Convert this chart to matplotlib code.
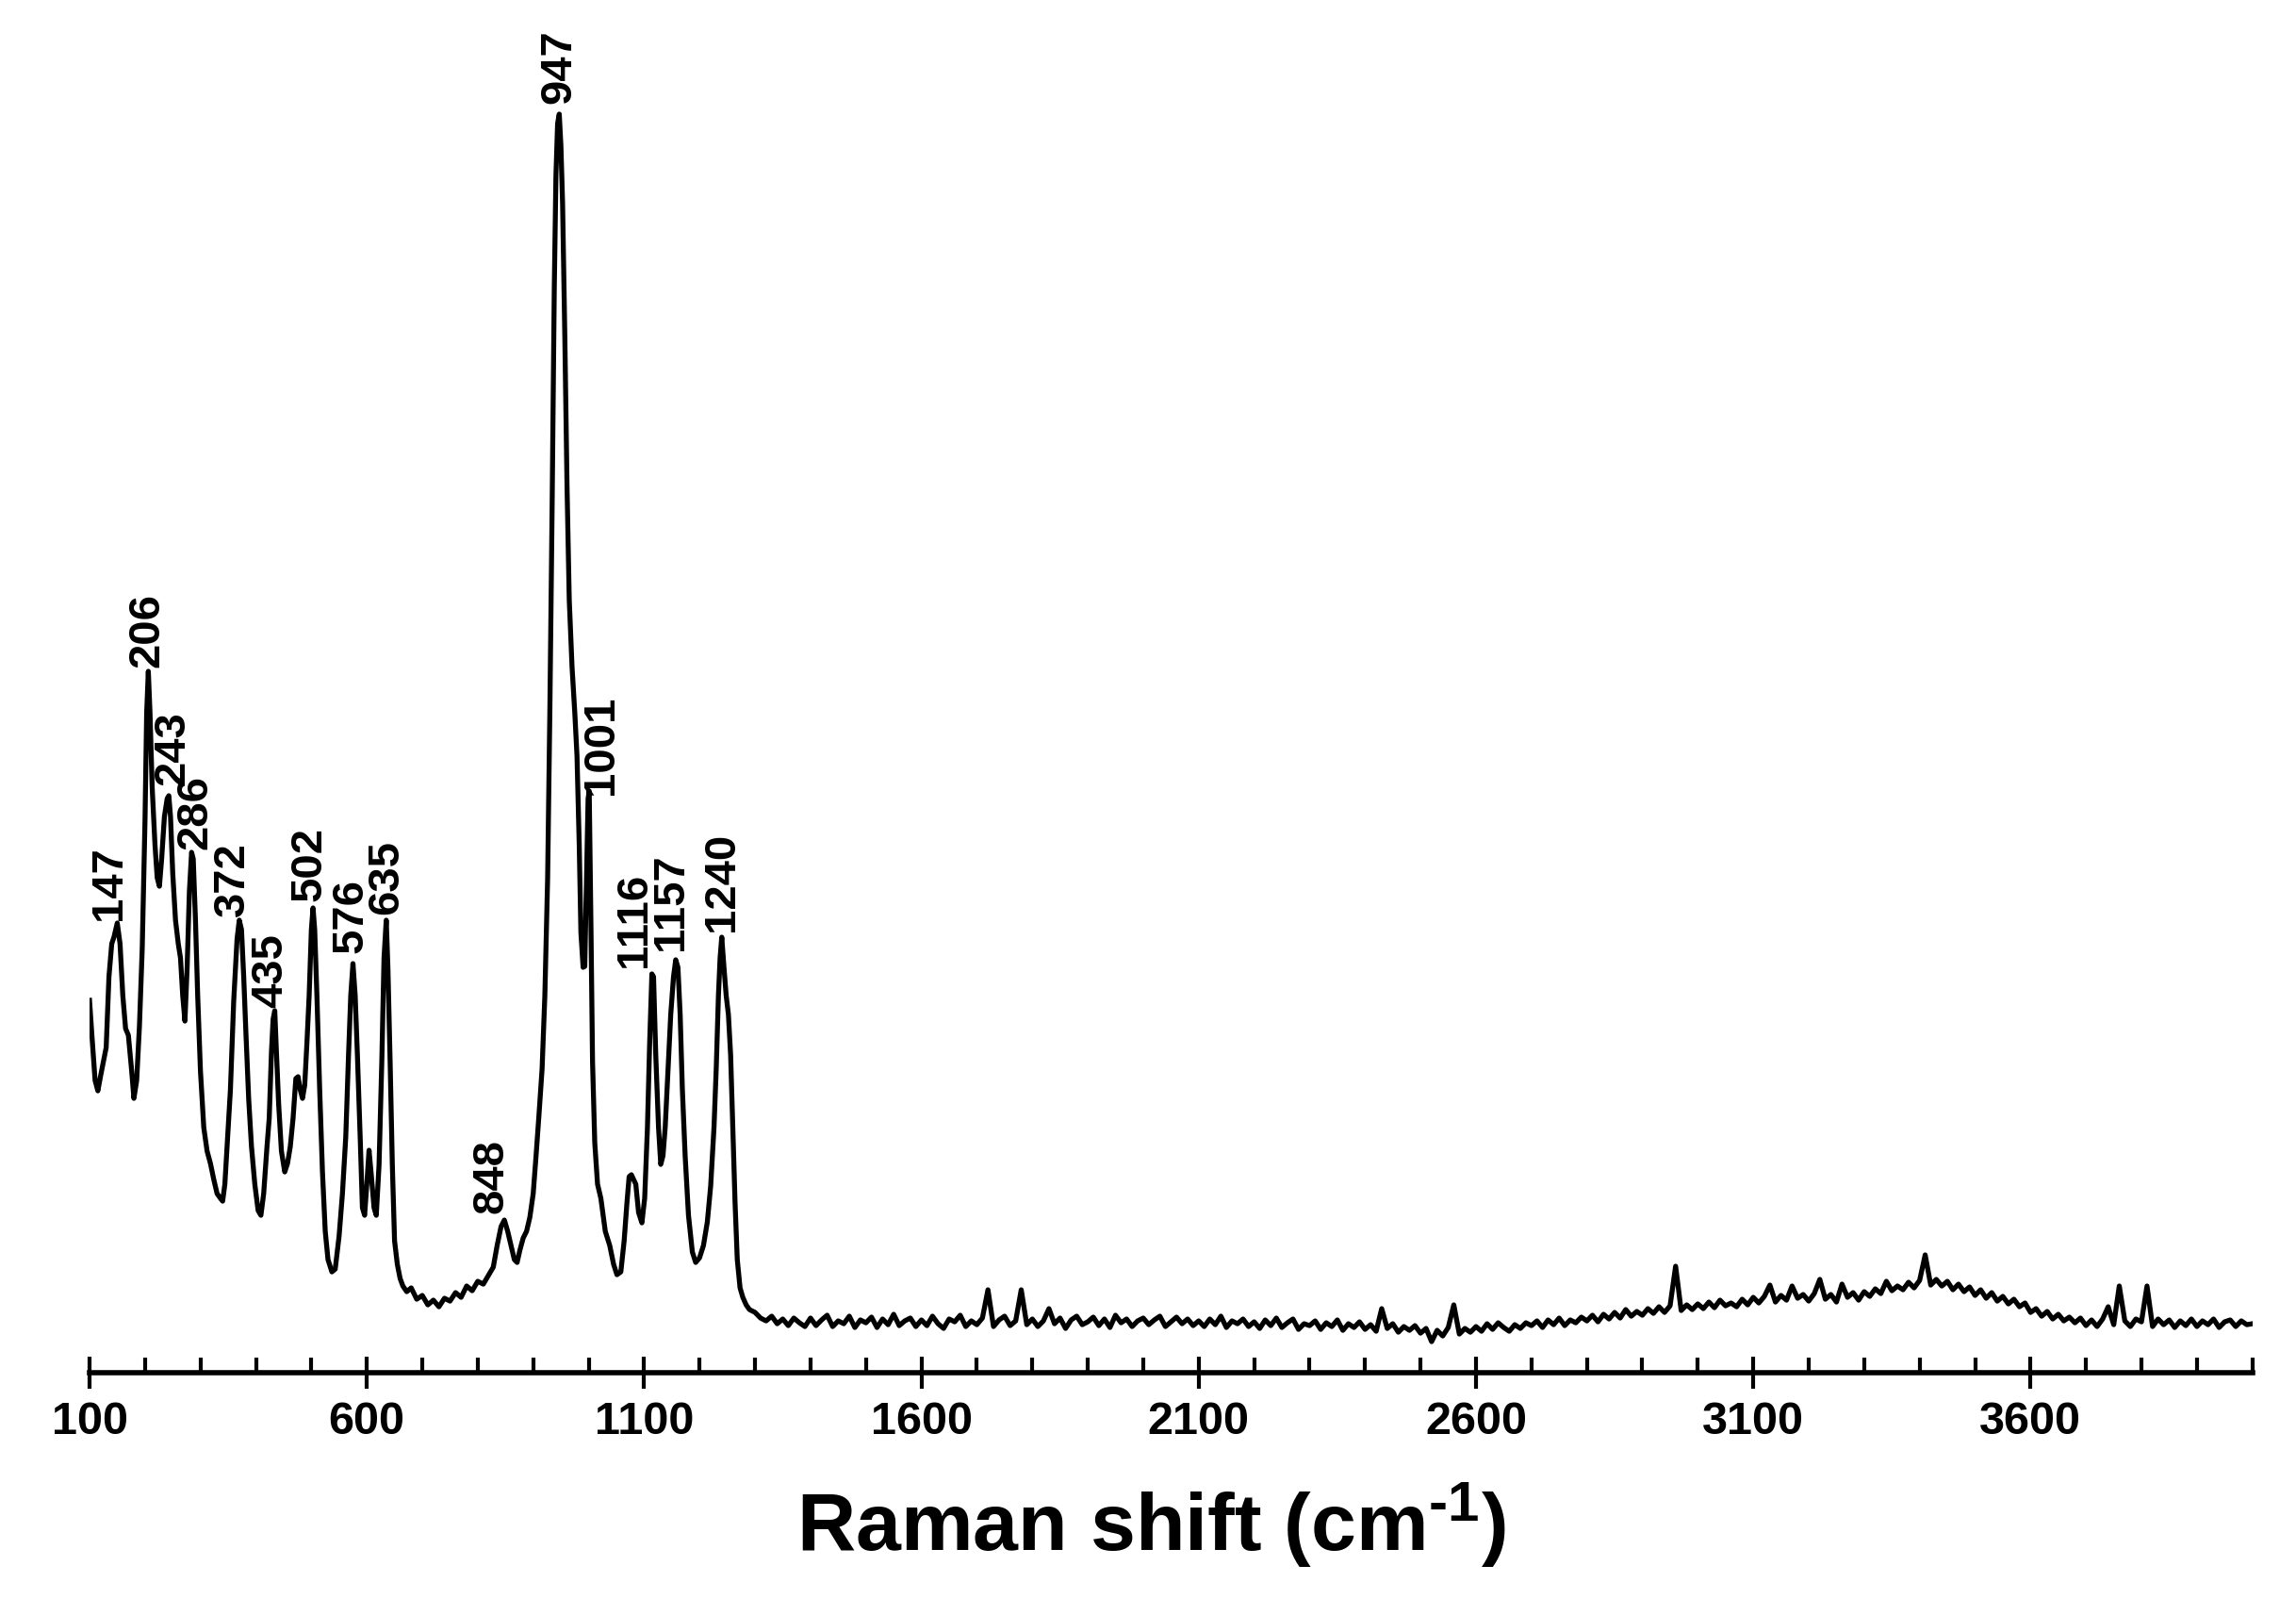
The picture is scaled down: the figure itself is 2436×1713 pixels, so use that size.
import numpy as np
import matplotlib
matplotlib.use('Agg')
import matplotlib.pyplot as plt
from matplotlib.ticker import MultipleLocator

plt.rcParams['font.family'] = ['Liberation Sans', 'DejaVu Sans']
plt.rcParams['font.weight'] = 'bold'
plt.rcParams['mathtext.fontset'] = 'custom'
plt.rcParams['mathtext.rm'] = 'Liberation Sans:bold'
plt.rcParams['mathtext.default'] = 'rm'

# espectro Raman - regiao dos picos (cm-1, intensidade a.u.)
wn_picos = [100, 104, 110, 115, 120, 125, 130, 135, 140, 144, 150, 155, 160, 165, 170, 176, 180, 185, 190, 195,
            200, 203, 206, 209, 213, 218, 222, 226, 230, 235, 240, 243, 246, 250, 255, 260, 264, 268, 272, 276,
            280, 284, 287, 291, 295, 300, 306, 312, 318, 324, 330, 336, 340, 344, 348, 354, 360, 366, 370, 374,
            378, 382, 387, 392, 398, 404, 409, 414, 420, 424, 428, 431, 434, 437, 441, 446, 452, 457, 462, 467,
            472, 476, 480, 484, 488, 492, 496, 500, 503, 506, 510, 515, 520, 525, 530, 537, 543, 550, 556, 562,
            567, 571, 575, 579, 583, 588, 592, 596, 600, 604, 608, 613, 617, 622, 627, 631, 635, 638, 642, 646,
            650, 655, 660, 665, 672, 680, 690, 700, 710, 720, 730, 740, 750, 760, 770, 780, 790, 800, 810, 820,
            828, 835, 842, 848, 854, 860, 866, 871, 876, 882, 888, 894, 900, 905, 910, 916, 921, 926, 930, 934,
            938, 941, 944, 947, 950, 953, 957, 961, 965, 970, 975, 979, 983, 986, 990, 993, 996, 999, 1001, 1004,
            1007, 1011, 1016, 1022, 1030, 1038, 1045, 1051, 1058, 1064, 1069, 1073, 1077, 1081, 1085, 1090, 1096, 1101, 1106, 1110,
            1114, 1117, 1121, 1126, 1130, 1134, 1138, 1143, 1148, 1153, 1157, 1161, 1165, 1169, 1174, 1180, 1187, 1193, 1200, 1207,
            1214, 1220, 1226, 1230, 1234, 1237, 1240, 1244, 1248, 1252, 1256, 1260, 1264, 1268, 1273, 1278, 1284, 1290]
int_picos = [395, 360, 310, 299, 315, 330, 345, 420, 455, 462, 477, 455, 400, 365, 358, 320, 291, 310, 368, 450,
             586, 700, 744, 700, 620, 560, 525, 516, 545, 590, 609, 612, 590, 530, 480, 455, 440, 400, 373, 430,
             510, 552, 545, 480, 400, 320, 260, 235, 222, 205, 190, 185, 182, 200, 240, 300, 395, 460, 480, 470,
             420, 360, 290, 240, 200, 172, 167, 190, 240, 270, 340, 375, 384, 340, 285, 235, 213, 222, 240, 270,
             312, 314, 300, 291, 305, 350, 400, 470, 493, 470, 400, 300, 213, 150, 120, 107, 110, 145, 190, 250,
             337, 400, 434, 400, 337, 250, 175, 167, 200, 236, 210, 175, 167, 220, 330, 440, 480, 430, 330, 220,
             140, 115, 100, 92, 86, 90, 78, 82, 72, 77, 70, 79, 76, 85, 80, 92, 87, 97, 94, 104,
             112, 135, 155, 162, 150, 135, 120, 117, 130, 143, 150, 165, 190, 229, 270, 322, 400, 524, 700, 912,
             1150, 1270, 1325, 1335, 1301, 1240, 1100, 940, 820, 749, 700, 654, 560, 467, 430, 431, 520, 609, 617, 480,
             330, 244, 200, 185, 150, 135, 115, 104, 107, 140, 180, 208, 210, 205, 200, 170, 159, 185, 260, 350,
             423, 420, 337, 260, 221, 230, 260, 320, 380, 420, 438, 430, 380, 300, 230, 167, 128, 117, 122, 135,
             160, 198, 260, 322, 400, 440, 462, 430, 400, 380, 337, 260, 180, 120, 90, 80, 72, 67]

# linha de base 1300-4000 cm-1, lida a cada 10 cm-1
wn_base = np.arange(1300, 4001, 10)
int_base = [64, 58, 55, 60, 52, 57, 50, 58, 53, 49,
            58, 50, 56, 61, 49, 55, 52, 60, 48, 56,
            53, 59, 48, 57, 51, 62, 50, 55, 58, 49,
            56, 50, 60, 52, 47, 57, 54, 61, 49, 55,
            51, 58, 88, 49, 56, 60, 50, 55, 88, 51,
            57, 49, 55, 68, 52, 58, 47, 56, 60, 51,
            54, 59, 50, 57, 48, 61, 53, 57, 49, 55,
            58, 51, 56, 60, 49, 54, 59, 52, 57, 50,
            55, 49, 57, 51, 60, 48, 55, 52, 57, 49,
            54, 47, 56, 50, 58, 48, 53, 57, 46, 52,
            50, 55, 46, 53, 49, 56, 45, 52, 48, 54,
            46, 51, 44, 68, 47, 52, 43, 49, 45, 50,
            42, 47, 33, 45, 39, 48, 72, 41, 47, 43,
            49, 44, 52, 46, 53, 48, 44, 51, 47, 53,
            50, 55, 48, 56, 51, 58, 50, 56, 53, 59,
            55, 61, 54, 62, 57, 64, 58, 67, 60, 65,
            61, 68, 63, 70, 64, 71, 113, 66, 72, 67,
            73, 68, 75, 69, 77, 71, 74, 70, 78, 72,
            80, 74, 81, 93, 75, 82, 77, 92, 79, 83,
            76, 84, 99, 78, 83, 75, 94, 80, 85, 77,
            86, 81, 89, 84, 97, 87, 92, 88, 96, 90,
            98, 125, 93, 99, 92, 97, 88, 94, 86, 91,
            82, 88, 79, 85, 76, 81, 73, 78, 70, 74,
            64, 68, 60, 65, 57, 62, 55, 59, 53, 58,
            50, 56, 49, 57, 70, 51, 92, 55, 49, 57,
            54, 92, 49, 57, 51, 56, 48, 55, 50, 57,
            49, 55, 51, 57, 48, 54, 56, 49, 55, 51,
            52]

picos = [147, 206, 243, 286, 372, 435, 502, 576, 635, 848, 947, 1001, 1116, 1157, 1240]
ticks_x = [100, 600, 1100, 1600, 2100, 2600, 3100, 3600]

# deslocamento dos rotulos (pontos)
desl_x = [-4.5, -1, 3.4, 2.2, -5.6, -3.4, -2.2, -2.2, 0, -10, 0, 9, -14.5, -3.4, 0]
desl_y = [2, 3, 8, 2, 3, 2, 5, 8, 4, 5, 8, -3, 5, 7, 4]

x = np.concatenate([wn_picos, wn_base])
y = np.concatenate([int_picos, int_base])

fig = plt.figure(figsize=(24.36, 17.13), dpi=100)
ax = fig.add_axes([0.039, 0.150, 0.942, 0.850])
ax.plot(x, y, color='black', linewidth=3.8, solid_joinstyle='round')

for p, dx, dy in zip(picos, desl_x, desl_y):
    perto = np.abs(x - p) <= 6
    topo = y[perto].max()
    ax.annotate(str(p), xy=(p, topo), xytext=(dx, dy), textcoords='offset points',
                rotation=90, ha='center', va='bottom', fontsize=34, fontweight='bold')

ax.set_xlim(100, 4000)
ax.set_ylim(0, 1456)
ax.set_xticks(ticks_x)
ax.xaxis.set_minor_locator(MultipleLocator(100))
ax.tick_params(axis='x', which='major', direction='inout', length=25, width=3, labelsize=35, pad=9)
ax.tick_params(axis='x', which='minor', direction='in', length=11.5, width=3)
ax.set_yticks([])
for s in ['left', 'right', 'top']:
    ax.spines[s].set_visible(False)
ax.spines['bottom'].set_linewidth(4)
for lab in ax.get_xticklabels():
    lab.set_fontweight('bold')
ax.set_xlabel(r'Raman shift (cm$^{\text{-}1}$)', fontsize=62, fontweight='bold', labelpad=28)
ax.xaxis.label.set_x(0.491)

fig.savefig('out.png', dpi=100)
